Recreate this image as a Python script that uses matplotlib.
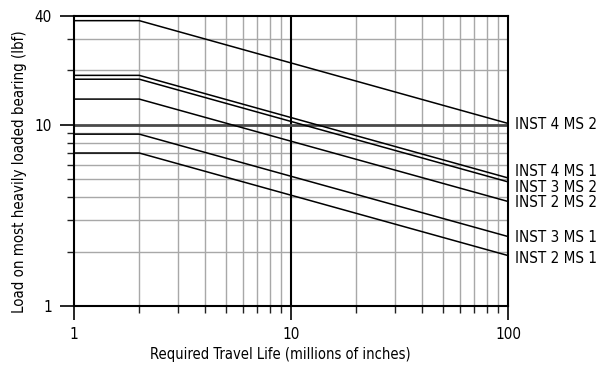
import matplotlib
matplotlib.use("Agg")
import matplotlib.pyplot as plt
from matplotlib.ticker import FixedLocator, NullFormatter
from matplotlib.transforms import blended_transform_factory

plt.rcParams['font.family'] = ['DejaVu Sans']
plt.rcParams['font.stretch'] = 'condensed'

# travel life breakpoints (millions of inches)
life = [1, 2, 100]
labels = ["INST 4 MS 2", "INST 4 MS 1", "INST 3 MS 2", "INST 2 MS 2", "INST 3 MS 1", "INST 2 MS 1"]
load_start = [37.7, 18.8, 17.9, 13.9, 8.9, 7.0]
load_end = [10.2, 5.1, 4.85, 3.78, 2.42, 1.9]
label_y = [10.0, 5.52, 4.54, 3.75, 2.40, 1.82]

fig = plt.figure(figsize=(6.05, 3.67), dpi=100)
ax = fig.add_axes([0.1223, 0.1662, 0.8397 - 0.1223, 0.9564 - 0.1662])
ax.set_xscale('log')
ax.set_yscale('log')
ax.set_xlim(1, 100)
ax.set_ylim(1, 40)

x_minor = [2, 3, 4, 5, 6, 7, 8, 9, 20, 30, 40, 50, 60, 70, 80, 90]
y_minor = [2, 3, 4, 5, 6, 7, 8, 9, 20, 30]

# grid
for xv in x_minor:
    ax.axvline(xv, color='#a8a8a8', lw=1.0, zorder=1)
for yv in y_minor:
    ax.axhline(yv, color='#a8a8a8', lw=1.0, zorder=1)
ax.axvline(10, color='black', lw=1.5, zorder=2)
ax.axhline(10, color='#4a4a4a', lw=2.0, zorder=2)

trans = blended_transform_factory(ax.transAxes, ax.transData)
for name, s, e, ly in zip(labels, load_start, load_end, label_y):
    ax.plot(life, [s, s, e], color='black', lw=1.1, zorder=3)
    ax.text(1.016, ly, name, transform=trans, ha='left', va='center', fontsize=10.9)

ax.xaxis.set_major_locator(FixedLocator([1, 10, 100]))
ax.xaxis.set_minor_locator(FixedLocator(x_minor))
ax.yaxis.set_major_locator(FixedLocator([1, 10, 40]))
ax.yaxis.set_minor_locator(FixedLocator(y_minor))
ax.set_xticklabels(['1', '10', '100'])
ax.set_yticklabels(['1', '10', '40'])
ax.xaxis.set_minor_formatter(NullFormatter())
ax.yaxis.set_minor_formatter(NullFormatter())
ax.tick_params(which='major', length=10, width=1.2, labelsize=11, direction='out')
ax.tick_params(which='minor', length=5, width=1.0, color='#222222', direction='out')
ax.tick_params(axis='y', which='major', pad=6)
ax.tick_params(axis='x', which='major', pad=5)

for sp in ax.spines.values():
    sp.set_linewidth(1.5)
    sp.set_color('black')

fig.text(280 / 605, 1 - 355 / 367, 'Required Travel Life (millions of inches)',
         ha='center', va='center', fontsize=10.5)
fig.text(20 / 605, 1 - 172 / 367, 'Load on most heavily loaded bearing (lbf)',
         ha='center', va='center', rotation=90, fontsize=10.8)

fig.savefig('out.png', dpi=100)
